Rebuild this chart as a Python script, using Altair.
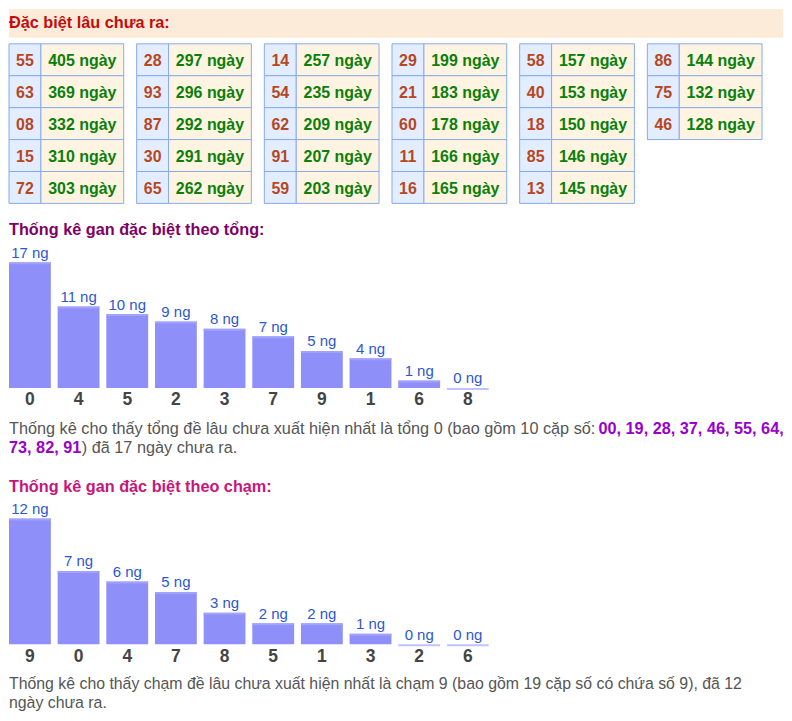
import altair as alt
import pandas as pd

FONT = "Liberation Sans"
W = 776

# ---------------- data ----------------
header_text = "Đặc biệt lâu chưa ra:"

gan_numbers = ["55", "63", "08", "15", "72",
               "28", "93", "87", "30", "65",
               "14", "54", "62", "91", "59",
               "29", "21", "60", "11", "16",
               "58", "40", "18", "85", "13",
               "86", "75", "46"]
gan_days = [405, 369, 332, 310, 303,
            297, 296, 292, 291, 262,
            257, 235, 209, 207, 203,
            199, 183, 178, 166, 165,
            157, 153, 150, 146, 145,
            144, 132, 128]
table_sizes = [5, 5, 5, 5, 5, 3]

title_tong = "Thống kê gan đặc biệt theo tổng:"
tong_labels = ["0", "4", "5", "2", "3", "7", "9", "1", "6", "8"]
tong_values = [17, 11, 10, 9, 8, 7, 5, 4, 1, 0]

para1_line1_plain = "Thống kê cho thấy tổng đề lâu chưa xuất hiện nhất là tổng 0 (bao gồm 10 cặp số: "
para1_line1_bold = "00, 19, 28, 37, 46, 55, 64,"
para1_line2_bold = "73, 82, 91"
para1_line2_plain = ") đã 17 ngày chưa ra."

title_cham = "Thống kê gan đặc biệt theo chạm:"
cham_labels = ["9", "0", "4", "7", "8", "5", "1", "3", "2", "6"]
cham_values = [12, 7, 6, 5, 3, 2, 2, 1, 0, 0]

para2_line1 = "Thống kê cho thấy chạm đề lâu chưa xuất hiện nhất là chạm 9 (bao gồm 19 cặp số có chứa số 9), đã 12"
para2_line2 = "ngày chưa ra."

# ---------------- colours ----------------
GRAY = "#555555"
PURPLE_BOLD = "#9900CC"
BAR = "#8F8FFA"
BAR_TOP = "#A8A8FF"
LABEL_BLUE = "#2B58D0"
TITLE_SIZE = 16.3


def text_layer(txt, x, y, color, size, bold=False):
    return alt.Chart(alt.Data(values=[{"t": txt}])).mark_text(
        align="left", baseline="alphabetic", font=FONT, fontSize=size,
        fontWeight="bold" if bold else "normal", color=color
    ).encode(text="t:N", x=alt.value(x), y=alt.value(y))


def spacer(w, h):
    return alt.Chart(alt.Data(values=[{"t": ""}])).mark_text().encode(
        text="t:N").properties(width=w, height=h)


# header
header = text_layer(header_text, 0, 19.5, "#C30B0B", TITLE_SIZE, True).properties(
    width=W, height=29, view=alt.ViewBackground(fill="#FCEBD8"))

# tables (one chart, one band per table)
t_index, t_row = [], []
for ti, s in enumerate(table_sizes):
    t_index += [ti] * s
    t_row += list(range(s))
tdf = pd.DataFrame({"table": t_index, "row": t_row, "num": gan_numbers,
                    "day": [f"{d} ngày" for d in gan_days]})

NUM_FRAC = 32 / 115
xs = alt.Scale(paddingInner=13 / 128, paddingOuter=0)
ty = alt.Y("row:O", axis=None, scale=alt.Scale(paddingInner=0, paddingOuter=0))
tbase = alt.Chart(tdf).encode(y=ty)
num_rect = tbase.mark_rect(fill="#E2EEFF", stroke="#88AAEE", strokeWidth=1).encode(
    x=alt.X("table:O", scale=xs, axis=None, bandPosition=0),
    x2=alt.X2("table", bandPosition=NUM_FRAC))
day_rect = tbase.mark_rect(fill="#FFF4E2", stroke="#88AAEE", strokeWidth=1).encode(
    x=alt.X("table:O", scale=xs, axis=None, bandPosition=NUM_FRAC),
    x2=alt.X2("table", bandPosition=1))
num_text = tbase.mark_text(font=FONT, fontSize=16, fontWeight="bold", color="#B8461E",
                           baseline="alphabetic", dy=6.5, align="center").encode(
    x=alt.X("table:O", scale=xs, axis=None, bandPosition=NUM_FRAC / 2), text="num:N")
day_text = tbase.mark_text(font=FONT, fontSize=16, fontWeight="bold", color="#0A800A",
                           baseline="alphabetic", dy=6.5, align="center").encode(
    x=alt.X("table:O", scale=xs, axis=None, bandPosition=(1 + NUM_FRAC) / 2), text="day:N")
tables_row = alt.layer(num_rect, day_rect, num_text, day_text).properties(
    width=alt.Step(128), height=alt.Step(32))


def bar_chart(labels, values, height):
    df = pd.DataFrame({"k": labels, "v": values, "lab": [f"{v} ng" for v in values]})
    x = alt.X("k:N", sort=labels,
              scale=alt.Scale(paddingInner=0.14, paddingOuter=0),
              axis=alt.Axis(title=None, labelFont=FONT, labelFontSize=17.5,
                            labelFontWeight="bold", labelColor="#444444",
                            ticks=False, tickSize=0, domain=False, labelPadding=3,
                            labelAngle=0, grid=False))
    y = alt.Y("v:Q", scale=alt.Scale(domain=[0, max(values)], nice=False), axis=None)
    base = alt.Chart(df).encode(x=x, y=y)
    b = base.mark_bar(color=BAR)
    top = base.mark_tick(color=BAR_TOP, thickness=2, size=42, yOffset=1)
    t = base.mark_text(baseline="alphabetic", dy=-4.5, font=FONT, fontSize=15,
                       color=LABEL_BLUE).encode(text="lab:N")
    return alt.layer(b, top, t).properties(width=481, height=height)


title1 = text_layer(title_tong, 0, 32, "#800066", TITLE_SIZE, True).properties(
    width=W, height=59)
bar1 = bar_chart(tong_labels, tong_values, 126)

para1 = alt.layer(
    text_layer(para1_line1_plain, 0, 46, GRAY, 16.3),
    text_layer(para1_line1_bold, 591, 46, PURPLE_BOLD, 16.3, True),
    text_layer(para1_line2_bold, 0, 65.3, PURPLE_BOLD, 16.3, True),
    text_layer(para1_line2_plain, 73, 65.3, GRAY, 16.3),
    text_layer(title_cham, 0, 104, "#C8157A", TITLE_SIZE, True),
).properties(width=W, height=131)

bar2 = bar_chart(cham_labels, cham_values, 126)

para2 = alt.layer(
    text_layer(para2_line1, 0, 45, GRAY, 15.9),
    text_layer(para2_line2, 0, 63.5, GRAY, 15.9),
).properties(width=W, height=66)

chart = alt.vconcat(header, spacer(W, 6), tables_row, title1, bar1, para1, bar2, para2,
                    spacing=0, bounds="flush", padding=0).configure_view(stroke=None)

chart.save("out.html", embed_options={"renderer": "svg", "actions": False})
